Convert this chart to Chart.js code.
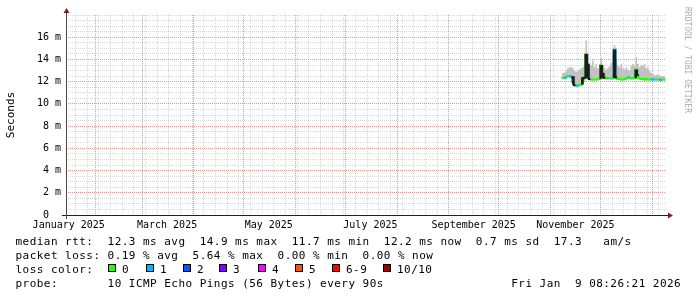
<!DOCTYPE html>
<html>
<head>
<meta charset="utf-8">
<script src="https://cdn.jsdelivr.net/npm/chart.js@4.4.1/dist/chart.umd.min.js"></script>
<style>
  html, body { margin: 0; padding: 0; background: #fff; }
  canvas { display: block; }
</style>
</head>
<body>
<canvas id="c" width="697" height="297" style="width:697px;height:297px"></canvas>
<script>
const DAY = 86400000;
// graph covers the last 360 days up to the time stamp
const rangeStart = Date.UTC(2025, 0, 14, 8, 26, 21);
const rangeEnd = Date.UTC(2026, 0, 9, 8, 26, 21);
// first day with data, one value per day after that
const firstDay = Date.UTC(2025, 10, 8);

const median = [
  12.40, 12.35, 12.35, 12.40, 12.50, 12.50, 12.45, 12.00, 11.70, 11.65,
  11.65, 11.70, 11.75, 12.10, 12.35, 14.50, 13.60, 12.25, 12.20, 12.20,
  12.20, 12.20, 12.25, 12.25, 13.50, 12.80, 12.35, 12.30, 12.30, 12.30,
  12.30, 12.35, 14.90, 12.40, 12.25, 12.25, 12.20, 12.20, 12.25, 12.30,
  12.35, 12.40, 12.30, 12.30, 12.35, 13.10, 12.60, 12.30, 12.25, 12.25,
  12.20, 12.25, 12.20, 12.20, 12.25, 12.20, 12.20, 12.20, 12.20, 12.20,
  12.15, 12.20
];
const loss = [
  0, 1, 1, 0, 1, 1, 1, 0, 1, 1,
  0, 0, 0, 0, 0, 1, 1, 0, 0, 0,
  0, 0, 0, 0, 1, 0, 0, 1, 0, 0,
  0, 1, 1, 0, 0, 0, 0, 0, 0, 0,
  1, 0, 0, 0, 0, 1, 0, 0, 0, 0,
  0, 0, 0, 0, 1, 1, 0, 0, 1, 1,
  0, 0
];
const smokeTop = [
  12.70, 12.80, 12.80, 13.00, 13.20, 13.30, 13.30, 13.20, 13.00, 12.90,
  13.00, 13.10, 13.20, 13.30, 13.60, 15.70, 14.60, 13.40, 13.50, 13.90,
  13.30, 13.60, 13.20, 13.10, 14.10, 13.50, 13.30, 13.10, 13.20, 13.40,
  13.70, 14.40, 15.30, 14.00, 13.50, 13.30, 13.60, 13.20, 13.10, 13.30,
  13.10, 13.00, 13.40, 13.60, 13.40, 14.20, 13.60, 13.30, 13.50, 13.40,
  13.60, 13.20, 13.30, 13.00, 12.80, 12.70, 12.55, 12.60, 12.65, 12.55,
  12.50, 12.50
];
const smokeBottom = [
  12.30, 12.25, 12.25, 12.30, 12.35, 12.40, 12.30, 11.80, 11.55, 11.50,
  11.50, 11.55, 11.60, 11.90, 12.20, 12.30, 12.20, 12.15, 12.10, 12.10,
  12.10, 12.10, 12.15, 12.15, 12.20, 12.20, 12.20, 12.20, 12.20, 12.20,
  12.20, 12.20, 12.20, 12.20, 12.15, 12.15, 12.10, 12.10, 12.15, 12.20,
  12.20, 12.25, 12.20, 12.20, 12.20, 12.20, 12.20, 12.20, 12.15, 12.15,
  12.10, 12.15, 12.10, 12.10, 12.15, 12.10, 12.10, 12.10, 12.10, 12.10,
  12.05, 12.10
];
// days where the inner (dark) smoke spreads out
const darkDays = [7, 13, 15, 16, 24, 25, 32, 45];
const darkLow = [11.75, 11.75, 12.30, 12.30, 12.30, 12.30, 12.30, 12.30];
const darkHigh = [12.40, 12.30, 14.40, 13.50, 13.40, 12.70, 14.80, 13.00];

const lossNames = ['0', '1', '2', '3', '4', '5', '6-9', '10/10'];
const lossColors = ['#26ff00', '#00b8ff', '#0059ff', '#7e00ff', '#ff00ff', '#ff5500', '#ff0000', '#a10000'];

const xLabelMonths = [0, 2, 4, 6, 8, 10];
const xLabelNames = ['January 2025', 'March 2025', 'May 2025', 'July 2025', 'September 2025', 'November 2025'];
const yMax = 18;
const yMinorStep = 0.5;
const yLabelStep = 2;

const legendLines = [
  'median rtt:  12.3 ms avg  14.9 ms max  11.7 ms min  12.2 ms now  0.7 ms sd  17.3   am/s',
  'packet loss: 0.19 % avg  5.64 % max  0.00 % min  0.00 % now',
  'loss color:',
  'probe:       10 ICMP Echo Pings (56 Bytes) every 90s'
];
const stampText = 'Fri Jan  9 08:26:21 2026';

const FONT = '"DejaVu Sans Mono", monospace';
const GRID = 'rgba(140,140,140,0.33)';
const MGRID = 'rgba(222,79,79,0.6)';
const DARK = '#1c1c1c';

function stepSeries(values) {
  const pts = values.map((v, k) => ({ x: firstDay + k * DAY, y: v }));
  pts.push({ x: firstDay + values.length * DAY, y: values[values.length - 1] });
  return pts;
}
const isDark = k => darkDays.indexOf(k) >= 0;
const darkTopVals = median.map((v, k) => { const i = darkDays.indexOf(k); return i < 0 ? v : darkHigh[i]; });
const darkBotVals = median.map((v, k) => { const i = darkDays.indexOf(k); return i < 0 ? v : darkLow[i]; });

// x grid: weekly (mondays), monthly, and mid-month label positions
const xKind = new Map();
const xLabelAt = new Map();
for (let t = Date.UTC(2025, 0, 20); t < rangeEnd; t += 7 * DAY) xKind.set(t, 'week');
for (let m = 1; m <= 12; m++) xKind.set(Date.UTC(2025, m, 1), 'month');
xLabelMonths.forEach((m, i) => {
  const t = Date.UTC(2025, m, 1) + 15 * DAY;
  xKind.set(t, 'label');
  xLabelAt.set(t, xLabelNames[i]);
});
const xTicks = [...xKind.keys()].sort((a, b) => a - b);
const yTicks = [];
for (let v = 0; v <= yMax + 1e-9; v += yMinorStep) yTicks.push(Math.round(v * 10) / 10);

const rrdDecor = {
  id: 'rrdDecor',
  beforeDraw(chart) {
    chart.ctx.letterSpacing = '0px';
  },
  afterDraw(chart) {
    const ctx = chart.ctx;
    const a = chart.chartArea;
    ctx.save();
    // axes
    ctx.lineWidth = 1;
    ctx.strokeStyle = '#1f1f1f';
    ctx.beginPath();
    ctx.moveTo(a.left - 4, a.bottom + 0.5);
    ctx.lineTo(a.right + 4, a.bottom + 0.5);
    ctx.stroke();
    ctx.strokeStyle = '#4a4a4a';
    ctx.beginPath();
    ctx.moveTo(a.left + 0.5, a.bottom + 4);
    ctx.lineTo(a.left + 0.5, a.top - 4);
    ctx.stroke();
    ctx.fillStyle = '#801e1e';
    ctx.beginPath();
    ctx.moveTo(a.right + 2, a.bottom - 2.5);
    ctx.lineTo(a.right + 2, a.bottom + 3.5);
    ctx.lineTo(a.right + 7, a.bottom + 0.5);
    ctx.fill();
    ctx.beginPath();
    ctx.moveTo(a.left - 2.5, a.top - 2);
    ctx.lineTo(a.left + 3.5, a.top - 2);
    ctx.lineTo(a.left + 0.5, a.top - 7);
    ctx.fill();

    // legend (monospace lines, like rrdtool's)
    ctx.font = '11px ' + FONT;
    ctx.letterSpacing = '0.46px';
    ctx.fillStyle = '#000';
    ctx.textBaseline = 'alphabetic';
    ctx.textAlign = 'left';
    const rows = [244.8, 258.8, 272.8, 286.8];
    legendLines.forEach((s, i) => ctx.fillText(s, 15.5, rows[i]));
    const boxX = [108, 146, 183, 219, 258, 295, 332, 383];
    lossNames.forEach((n, i) => {
      ctx.fillStyle = lossColors[i];
      ctx.fillRect(boxX[i], 264, 8, 8);
      ctx.strokeStyle = '#000';
      ctx.strokeRect(boxX[i] + 0.5, 264.5, 7, 7);
      ctx.fillStyle = '#000';
      ctx.fillText(n, boxX[i] + 14, rows[2]);
    });
    ctx.textAlign = 'right';
    ctx.fillText(stampText, 681.2, rows[3]);

    // watermark
    ctx.translate(691, 7);
    ctx.rotate(Math.PI / 2);
    ctx.letterSpacing = '0px';
    ctx.font = '8px ' + FONT;
    ctx.textAlign = 'left';
    ctx.textBaseline = 'top';
    ctx.fillStyle = 'rgba(0,0,0,0.35)';
    ctx.fillText('RRDTOOL / TOBI OETIKER', 0, 0);
    ctx.restore();
  }
};

const lineBase = { stepped: 'after', pointRadius: 0, borderColor: 'transparent', borderWidth: 0 };

new Chart(document.getElementById('c').getContext('2d'), {
  type: 'line',
  data: {
    datasets: [
      Object.assign({}, lineBase, {
        data: stepSeries(darkTopVals), fill: '+1', backgroundColor: DARK, borderWidth: 2,
        segment: { borderColor: c => (isDark(c.p0DataIndex) || isDark(c.p1DataIndex) ? DARK : 'transparent') }
      }),
      Object.assign({}, lineBase, { data: stepSeries(darkBotVals), fill: false }),
      Object.assign({}, lineBase, {
        data: stepSeries(median), fill: false, borderWidth: 2, borderColor: lossColors[0],
        segment: { borderColor: c => lossColors[loss[c.p0DataIndex]] || lossColors[0] }
      }),
      Object.assign({}, lineBase, { data: stepSeries(smokeTop), fill: '+1', backgroundColor: '#c2c2c2' }),
      Object.assign({}, lineBase, { data: stepSeries(smokeBottom), fill: false })
    ]
  },
  options: {
    responsive: false,
    animation: false,
    devicePixelRatio: 1,
    events: [],
    layout: { padding: { left: 0, top: 15, right: 31, bottom: 0 } },
    plugins: { legend: { display: false }, tooltip: { enabled: false } },
    scales: {
      x: {
        type: 'linear',
        min: rangeStart,
        max: rangeEnd,
        afterBuildTicks: s => { s.ticks = xTicks.map(v => ({ value: v })); },
        afterFit: s => { s.height = 82; },
        grid: {
          drawTicks: false,
          lineWidth: 1,
          color: c => {
            const k = c.tick ? xKind.get(c.tick.value) : null;
            return k === 'month' ? MGRID : (k === 'week' ? GRID : 'rgba(0,0,0,0)');
          }
        },
        border: { display: false, dash: [1, 1] },
        ticks: {
          autoSkip: false, maxRotation: 0, minRotation: 0, padding: 4,
          color: '#000', font: { family: FONT, size: 10 },
          callback: v => xLabelAt.get(v) || ''
        }
      },
      y: {
        min: 0,
        max: yMax,
        afterBuildTicks: s => { s.ticks = yTicks.map(v => ({ value: v })); },
        afterFit: s => { s.width = 66; },
        grid: {
          drawTicks: false,
          lineWidth: 1,
          color: c => (c.tick && c.tick.value % yLabelStep === 0 && c.tick.value < yMax ? MGRID : GRID)
        },
        border: { display: false, dash: [1, 1] },
        ticks: {
          autoSkip: false, padding: 5, color: '#000', font: { family: FONT, size: 10 },
          callback: v => (v % yLabelStep === 0 && v < yMax ? (v === 0 ? '0  ' : v + ' m') : '')
        },
        title: {
          display: true, text: 'Seconds', color: '#000',
          font: { family: FONT, size: 11 }, padding: { top: 4.6, bottom: 0 }
        }
      }
    }
  },
  plugins: [rrdDecor]
});
</script>
</body>
</html>
